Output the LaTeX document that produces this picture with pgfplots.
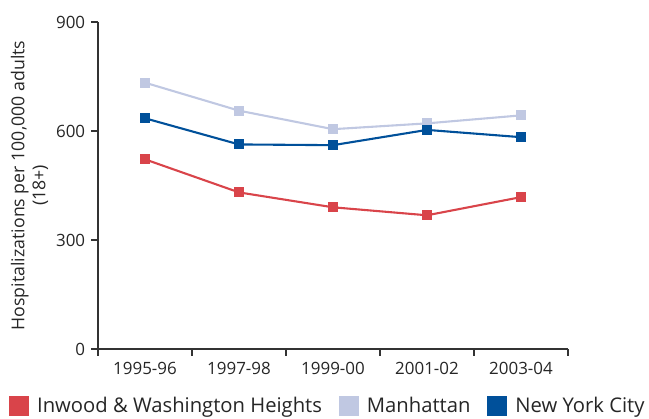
\documentclass[border=0pt]{standalone}
\usepackage{pgfplots}
\pgfplotsset{compat=1.18}
\usepackage{fontspec}
\setmainfont{Open Sans}
\definecolor{cRed}{HTML}{D9444A}
\definecolor{cLight}{HTML}{C0C8E2}
\definecolor{cBlue}{HTML}{00509A}
\definecolor{cAxis}{HTML}{333333}
\begin{document}
\fontsize{17}{21}\selectfont
\begin{tikzpicture}
\begin{axis}[
  scale only axis,
  width=470bp, height=327bp,
  xmin=-0.5, xmax=4.5, ymin=0, ymax=900,
  axis x line*=bottom, axis y line*=left,
  axis line style={cAxis, line width=1.3pt, -},
  xtick={-0.5,0.5,1.5,2.5,3.5,4.5},
  x tick label as interval,
  xticklabels={1995-96,1997-98,1999-00,2001-02,2003-04},
  ytick={0,300,600,900},
  tick align=outside,
  major tick length=7bp,
  tick style={cAxis, line width=1.1pt},
  /pgf/number format/assume math mode=true,
  ticklabel style={font=\fontsize{17}{21}\selectfont, text=black!85},
  ylabel={Hospitalizations per 100,000 adults\\(18+)},
  ylabel style={at={(rel axis cs:0,0.5)}, anchor=center, yshift=68.5bp,
    align=center, font=\fontsize{17.8}{21}\selectfont, text=black!85},
  legend columns=3,
  legend style={at={(rel axis cs:0.489,0)}, anchor=north, yshift=-46bp, draw=none,
    inner sep=0pt, font=\fontsize{20.3}{24}\selectfont, text=black!85,
    /tikz/every odd column/.append style={column sep=6bp},
    /tikz/every even column/.append style={column sep=15bp}},
  legend image code/.code={\fill[#1, draw=none] (0bp,-10bp) rectangle (20bp,10bp);},
  every axis plot/.append style={line width=2.1pt, mark=square*, mark size=4.5bp},
  clip=false,
]
\coordinate (bl) at (rel axis cs:0,0);
\coordinate (tr) at (rel axis cs:1,1);
\addplot[cRed, mark options={fill=cRed, line width=0pt}] coordinates {(0,522) (1,431) (2,390) (3,368) (4,418)};
\addlegendentry{Inwood \& Washington Heights}
\addplot[cLight, mark options={fill=cLight, line width=0pt}] coordinates {(0,733) (1,656) (2,605) (3,621) (4,643)};
\addlegendentry{Manhattan}
\addplot[cBlue, mark options={fill=cBlue, line width=0pt}] coordinates {(0,635) (1,563) (2,561) (3,603) (4,583)};
\addlegendentry{New York City}
\end{axis}
\pgfresetboundingbox
\path[use as bounding box] ([shift={(-98bp,-70bp)}]bl) rectangle ([shift={(81bp,22bp)}]tr);
\end{tikzpicture}
\end{document}
